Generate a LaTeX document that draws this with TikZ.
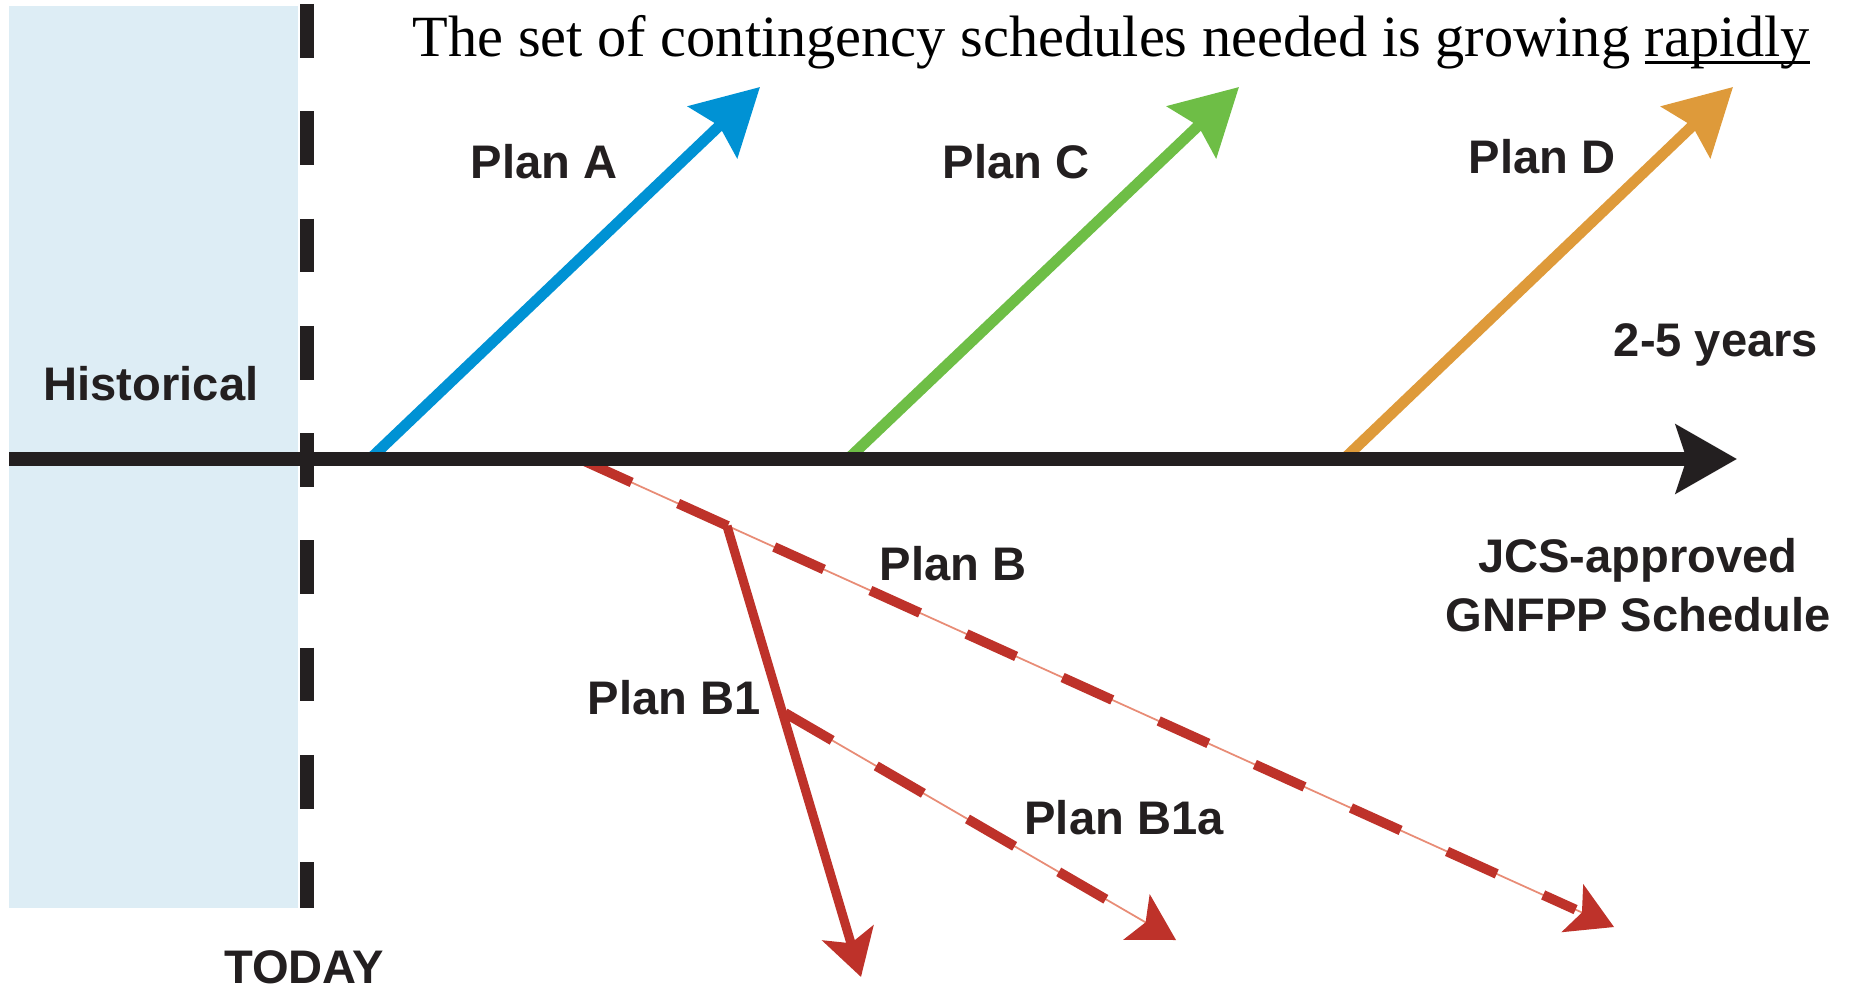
\documentclass[tikz,border=0pt]{standalone}
\usepackage{fontspec}
\setmainfont{Liberation Serif}
\setsansfont{Liberation Sans}
\usetikzlibrary{arrows.meta}

\definecolor{azul}{RGB}{0,146,212}
\definecolor{verde}{RGB}{110,190,70}
\definecolor{naranja}{RGB}{222,154,58}
\definecolor{rojo}{RGB}{190,50,42}
\definecolor{salmon}{RGB}{232,140,118}
\definecolor{negro}{RGB}{35,31,32}
\definecolor{celeste}{RGB}{221,237,245}

\newcommand\subrayado[1]{\setbox0\hbox{#1}\rlap{\rule[-1.9pt]{\wd0}{0.75pt}}\box0}

\tikzset{
  estilo plan/.style={
      x=0.01cm, y=-0.01cm,
      etiqueta/.style={text=negro, inner sep=0pt, align=center, font={\sffamily\bfseries\fontsize{13.4pt}{16.7pt}\selectfont}},
      titulo/.style={text=black, inner sep=0pt, font={\fontsize{16.6pt}{20pt}\selectfont}},
      plan/.style={line width=3.1pt, -{Stealth[length=18.5pt, width=20pt, inset=2.5pt]}},
      eje/.style={negro, line width=3.8pt, -{Stealth[length=17.3pt, width=19.3pt, inset=3pt]}},
      hoy/.style={negro, line width=3.7pt, dash pattern=on 15.3pt off 15.2pt},
      rama/.style={rojo, line width=2.6pt, -{Stealth[length=13pt, width=15pt, inset=3pt]}},
      rama fina/.style={salmon, line width=0.5pt, -{Stealth[length=13pt, width=15pt, inset=3pt, color=rojo]}},
      trazos/.style={rojo, line width=2.8pt, dash pattern=on 15.5pt off 14.5pt, shorten >=12pt},
    },
}

\begin{document}
\begin{tikzpicture}[estilo plan]
  \useasboundingbox (0,0) rectangle (1854,991);
  \fill[celeste] (9,6) rectangle (298,908);

  \coordinate (a0) at (370,459);
  \coordinate (a1) at (760,87);
  \coordinate (c0) at (848,459);
  \coordinate (c1) at (1239,87);
  \coordinate (d0) at (1344,459);
  \coordinate (d1) at (1733,87);
  \coordinate (b0) at (582,460);
  \coordinate (b1) at (727,526);
  \coordinate (bn) at (1614,927);
  \coordinate (b1n) at (861,977);
  \coordinate (b1a) at (785,713);
  \coordinate (b1an) at (1176,940);
  \coordinate (hoy0) at (307,4);
  \coordinate (hoy1) at (307,908);
  \coordinate (eje0) at (9,459);
  \coordinate (eje1) at (1737,459);

  \draw[plan, azul] (a0) -- (a1);
  \draw[plan, verde] (c0) -- (c1);
  \draw[plan, naranja] (d0) -- (d1);

  \draw[rama fina] (b0) -- (bn);
  \draw[trazos] (b0) -- (bn);
  \draw[rama fina] (b1a) -- (b1an);
  \draw[trazos] (b1a) -- (b1an);
  \draw[rama] (b1) -- (b1n);

  \draw[hoy] (hoy0) -- (hoy1);
  \draw[eje] (eje0) -- (eje1);

  \node[titulo, anchor=base west] (titulo) at (412,57) {The set of contingency schedules needed is growing \subrayado{rapidly}};
  \node[etiqueta] (historico) at (151,384) {Historical};
  \node[etiqueta] (today) at (304,967) {TODAY};
  \node[etiqueta] (planA) at (544,162) {Plan A};
  \node[etiqueta] (planC) at (1016,162) {Plan C};
  \node[etiqueta] (planD) at (1542,157) {Plan D};
  \node[etiqueta] (anios) at (1716,345) {2-5 years};
  \node[etiqueta] (jcs) at (1638,585) {JCS-approved\\GNFPP Schedule};
  \node[etiqueta] (planB) at (953,564) {Plan B};
  \node[etiqueta] (planB1) at (674,698) {Plan B1};
  \node[etiqueta] (planB1a) at (1124,818) {Plan B1a};
\end{tikzpicture}
\end{document}
